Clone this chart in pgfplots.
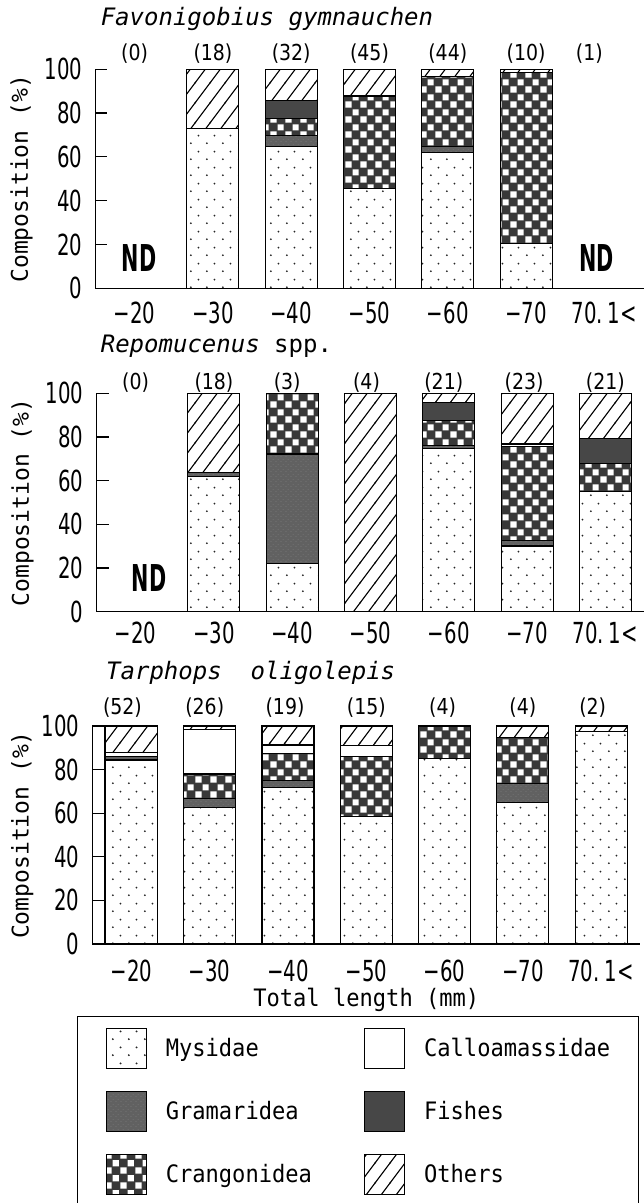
\documentclass[border=0pt]{standalone}
\usepackage{fontspec}
\setmainfont{DejaVu Sans}
\newfontfamily\monof{DejaVu Sans Mono}
\newfontfamily\legf[FakeStretch=0.92]{DejaVu Sans Mono}
\newfontfamily\condf[FakeStretch=0.68]{DejaVu Sans}
\newfontfamily\cntfam[FakeStretch=0.86]{DejaVu Sans}
\newfontfamily\ndfam[FakeStretch=0.56]{DejaVu Sans}
\newcommand\tickf{\condf\fontsize{29}{32}\selectfont}
\newcommand\cntf{\cntfam\fontsize{22}{26}\selectfont}
\newcommand\ndf{\ndfam\bfseries\fontsize{37}{40}\selectfont}
\newcommand\labf{\monof\fontsize{23}{26}\selectfont}
\newcommand\titf{\monof\fontsize{24}{27}\selectfont}
\newcommand\legfont{\legf\fontsize{24}{28}\selectfont}
\usepackage{pgfplots}
\usepackage{pgfplotstable}
\pgfplotsset{compat=1.18}
\usetikzlibrary{patterns}

\pgfdeclarepatternformonly{mydots}{\pgfpointorigin}{\pgfqpoint{15.6pt}{16pt}}{\pgfqpoint{15.6pt}{16pt}}{%
  \pgfpathcircle{\pgfqpoint{3.9pt}{4pt}}{1.05pt}%
  \pgfpathcircle{\pgfqpoint{11.7pt}{12pt}}{1.05pt}%
  \pgfusepath{fill}}
\pgfdeclarepatternformonly{mychecker}{\pgfpointorigin}{\pgfqpoint{15pt}{15pt}}{\pgfqpoint{15pt}{15pt}}{%
  \pgfpathrectangle{\pgfqpoint{0.5pt}{0.5pt}}{\pgfqpoint{6.5pt}{6.5pt}}%
  \pgfpathrectangle{\pgfqpoint{8pt}{8pt}}{\pgfqpoint{6.5pt}{6.5pt}}%
  \pgfusepath{fill}}
\pgfdeclarepatternformonly{myhatch}{\pgfqpoint{-1pt}{-1pt}}{\pgfqpoint{16pt}{21pt}}{\pgfqpoint{15pt}{20pt}}{%
  \pgfsetlinewidth{1.1pt}%
  \pgfpathmoveto{\pgfqpoint{-0.75pt}{-1pt}}\pgfpathlineto{\pgfqpoint{15.75pt}{21pt}}%
  \pgfusepath{stroke}}
\pgfdeclarepatternformonly{myspeck}{\pgfpointorigin}{\pgfqpoint{5pt}{5pt}}{\pgfqpoint{5pt}{5pt}}{%
  \pgfpathcircle{\pgfqpoint{1.2pt}{1.5pt}}{0.5pt}%
  \pgfpathcircle{\pgfqpoint{3.7pt}{4pt}}{0.4pt}%
  \pgfusepath{fill}}

\tikzset{
  mys/.style={draw=black, fill=white, pattern=mydots, pattern color=black!85},
  gram/.style={draw=black, preaction={fill=black!62}, pattern=myspeck, pattern color=black!42},
  cran/.style={draw=black, preaction={fill=black!78}, pattern=mychecker, pattern color=white},
  callo/.style={draw=black, fill=white},
  fish/.style={draw=black, fill=black!72},
  oth/.style={draw=black, pattern=myhatch, pattern color=black},
}

\pgfplotsset{
 panel/.style={
  scale only axis, width=548pt, height=219pt,
  xmin=-0.5, xmax=6.5, ymin=0, ymax=100,
  ybar stacked, bar width=52pt,
  axis x line=bottom, axis y line=left,
  axis line style={line width=1.3pt, -},
  xtick={0,...,6},
  xticklabels={−20,−30,−40,−50,−60,−70,70.\hspace{5pt}1<},
  ytick={0,20,40,60,80,100},
  tick align=inside,
  major tick length=12pt,
  ytick style={line width=1.2pt, black},
  xtick style={draw=none},
  /pgf/number format/assume math mode=true,
  yticklabel style={font=\tickf, anchor=east, inner sep=0pt, xshift=-13pt},
  xticklabel style={font=\tickf, anchor=north, inner sep=0pt},
  ylabel={Composition (\%)},
  clip=false,
  every axis plot/.append style={draw=black, line width=1.1pt},
 },
}

\pgfplotstableread{
x mys gram cran callo fish oth
0 0 0 0 0 0 0
1 72.8 0 0 0 0 27.2
2 64.7 4.9 8.0 0 8.1 14.3
3 45.7 0 42.1 0 0 12.2
4 61.9 2.8 32.0 0 0 3.3
5 20.5 0 78.0 0 0 1.5
6 0 0 0 0 0 0
}\tabFav
\pgfplotstableread{
x mys gram cran callo fish oth
0 0 0 0 0 0 0
1 61.8 1.9 0 0 0 36.3
2 22.1 50.1 27.8 0 0 0
3 0 0 0 0 0 100
4 74.8 1.5 11.2 0 8.2 4.3
5 30.1 2.4 43.1 1.2 0 23.2
6 55.0 0 12.9 0 11.5 20.6
}\tabRep
\pgfplotstableread{
x mys gram cran callo fish oth
0 84.4 1.5 0 2.0 0 12.1
1 62.7 4.1 11.2 20.2 0 1.8
2 71.9 3.3 12.3 3.8 0 8.7
3 58.4 0 27.8 4.8 0 9.0
4 85.2 0 14.8 0 0 0
5 65.0 8.7 21.1 0 0 5.2
6 97.4 0 0 0 0 2.6
}\tabTar

\begin{document}
\begin{tikzpicture}
% ---------- Panel 1 ----------
\begin{axis}[panel, at={(95.5pt,914.7pt)}, height=219pt,
  xticklabel style={yshift=-13.4pt},
  every axis y label/.style={at={([xshift=-74pt]axis description cs:0,0.5)}, rotate=90, anchor=center, font=\labf},
  title={\itshape Favonigobius gymnauchen},
  title style={at={(axis description cs:0.0093,1.1717)}, anchor=base west, inner sep=0pt, font=\titf},
]
\addplot[mys]   table[x=x,y=mys]{\tabFav};
\addplot[gram]  table[x=x,y=gram]{\tabFav};
\addplot[cran]  table[x=x,y=cran]{\tabFav};
\addplot[callo] table[x=x,y=callo]{\tabFav};
\addplot[fish]  table[x=x,y=fish]{\tabFav};
\addplot[oth]   table[x=x,y=oth]{\tabFav};
\node[font=\cntf] at ([yshift=15.3pt]axis cs:0,100) {(0)};
\node[font=\cntf] at ([yshift=15.3pt]axis cs:1,100) {(18)};
\node[font=\cntf] at ([yshift=15.3pt]axis cs:2,100) {(32)};
\node[font=\cntf] at ([yshift=15.3pt]axis cs:3,100) {(45)};
\node[font=\cntf] at ([yshift=15.3pt]axis cs:4,100) {(44)};
\node[font=\cntf] at ([yshift=15.3pt]axis cs:5,100) {(10)};
\node[font=\cntf] at ([yshift=15.3pt,xshift=-15pt]axis cs:6,100) {(1)};
\node[font=\ndf] at (axis cs:0.056,13.6) {ND};
\node[font=\ndf] at (axis cs:5.905,13.8) {ND};
\end{axis}
% ---------- Panel 2 ----------
\begin{axis}[panel, at={(96.5pt,591.3pt)}, height=218.4pt,
  xticklabel style={yshift=-10pt},
  every axis y label/.style={at={([xshift=-74pt]axis description cs:0,0.5)}, rotate=90, anchor=center, font=\labf},
  title={\textit{Repomucenus} spp.},
  title style={at={(axis description cs:0.0075,1.160)}, anchor=base west, inner sep=0pt, font=\titf},
]
\addplot[mys]   table[x=x,y=mys]{\tabRep};
\addplot[gram]  table[x=x,y=gram]{\tabRep};
\addplot[cran]  table[x=x,y=cran]{\tabRep};
\addplot[callo] table[x=x,y=callo]{\tabRep};
\addplot[fish]  table[x=x,y=fish]{\tabRep};
\addplot[oth]   table[x=x,y=oth]{\tabRep};
\node[font=\cntf] at ([yshift=10.3pt]axis cs:0,100) {(0)};
\node[font=\cntf] at ([yshift=10.3pt]axis cs:1,100) {(18)};
\node[font=\cntf] at ([yshift=10.3pt,xshift=-5pt]axis cs:2,100) {(3)};
\node[font=\cntf] at ([yshift=10.3pt,xshift=-4pt]axis cs:3,100) {(4)};
\node[font=\cntf] at ([yshift=10.3pt,xshift=-5pt]axis cs:4,100) {(21)};
\node[font=\cntf] at ([yshift=10.3pt,xshift=-3pt]axis cs:5,100) {(23)};
\node[font=\cntf] at ([yshift=10.3pt]axis cs:6,100) {(21)};
\node[font=\ndf] at (axis cs:0.17,15.4) {ND};
\end{axis}
% ---------- Panel 3 ----------
\begin{axis}[panel, at={(92.3pt,259pt)}, height=218pt,
  xticklabel style={yshift=-16pt},
  every axis y label/.style={at={([xshift=-70pt]axis description cs:0,0.5)}, rotate=90, anchor=center, font=\labf},
  title={\itshape Tarphops~~oligolepis},
  title style={at={(axis description cs:0.025,1.188)}, anchor=base west, inner sep=0pt, font=\titf},
  xlabel={Total length (mm)},
  xlabel style={at={(axis description cs:0.5,0)}, anchor=base, yshift=-62.7pt, font=\legfont},
  legend columns=2,
  legend cell align=left,
  legend image code/.code={\draw[#1, line width=1.1pt] (0pt,-20pt) rectangle (40pt,20pt);},
  legend style={at={(axis description cs:-0.0279,-0.3303)}, anchor=north west,
    draw=black, line width=1.3pt, inner xsep=28pt, inner ysep=11pt, row sep=22pt,
    font=\legfont, nodes={inner sep=0pt},
    /tikz/every odd column/.append style={column sep=19pt},
    /tikz/every even column/.append style={column sep=52pt}},
]
\addlegendimage{mys}
\addlegendimage{callo}
\addlegendimage{gram}
\addlegendimage{fish}
\addlegendimage{cran}
\addlegendimage{oth}
\addplot[mys]   table[x=x,y=mys]{\tabTar};
\addplot[gram]  table[x=x,y=gram]{\tabTar};
\addplot[cran]  table[x=x,y=cran]{\tabTar};
\addplot[callo] table[x=x,y=callo]{\tabTar};
\addplot[fish]  table[x=x,y=fish]{\tabTar};
\addplot[oth]   table[x=x,y=oth]{\tabTar};
\legend{Mysidae,Calloamassidae,Gramaridea,Fishes,Crangonidea,Others}
\draw[line width=1.2pt] (axis cs:-0.5,0) rectangle ([xshift=12.7pt]axis cs:-0.5,100);
\node[font=\cntf] at ([yshift=18.5pt,xshift=-9pt]axis cs:0,100) {(52)};
\node[font=\cntf] at ([yshift=18.5pt,xshift=-5pt]axis cs:1,100) {(26)};
\node[font=\cntf] at ([yshift=18.5pt,xshift=-3pt]axis cs:2,100) {(19)};
\node[font=\cntf] at ([yshift=18.5pt]axis cs:3,100) {(15)};
\node[font=\cntf] at ([yshift=18.5pt,xshift=-2pt]axis cs:4,100) {(4)};
\node[font=\cntf] at ([yshift=18.5pt]axis cs:5,100) {(4)};
\node[font=\cntf] at ([yshift=18.5pt,xshift=-8.5pt]axis cs:6,100) {(2)};
\end{axis}
\pgfresetboundingbox
\path[use as bounding box] (0,0) rectangle (644pt,1203pt);
\end{tikzpicture}
\end{document}
